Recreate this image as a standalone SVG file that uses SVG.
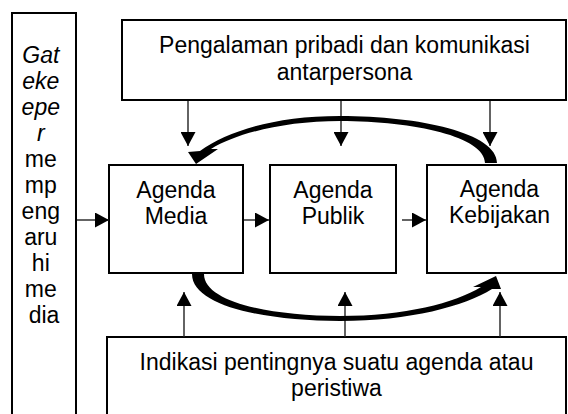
<svg xmlns="http://www.w3.org/2000/svg" width="568" height="414" viewBox="0 0 568 414">
<style>
.box{fill:#fff;stroke:#000;stroke-width:2}
.t{font-family:"Liberation Sans",Arial,sans-serif;font-size:23px;fill:#000;text-anchor:middle}
.it{font-style:italic}
.ln{stroke:#222;stroke-width:1.4;fill:none;marker-end:url(#ah)}
.curve{fill:#000;stroke:none}
</style>
<defs>
<marker id="ah" markerWidth="15" markerHeight="15" refX="14" refY="7.5" orient="auto" markerUnits="userSpaceOnUse">
<path d="M0,0 L14,7.5 L0,15 Z" fill="#000"/>
</marker>
</defs>
<rect x="0" y="0" width="568" height="414" fill="#fff"/>
<g id="gatekeeper">
<rect class="box" x="12" y="13" width="64" height="420"/>
<text class="t">
<tspan class="it" x="44" y="63">Gat</tspan>
<tspan class="it" x="44" y="89">eke</tspan>
<tspan class="it" x="44" y="115">epe</tspan>
<tspan class="it" x="44" y="141">r</tspan>
<tspan x="44" y="167">me</tspan>
<tspan x="44" y="193">mp</tspan>
<tspan x="44" y="219">eng</tspan>
<tspan x="44" y="245">aru</tspan>
<tspan x="44" y="271">hi</tspan>
<tspan x="44" y="297">me</tspan>
<tspan x="44" y="323">dia</tspan>
</text>
</g>
<g id="pengalaman">
<rect class="box" x="122" y="20" width="444" height="80"/>
<text class="t"><tspan x="344.5" y="53">Pengalaman pribadi dan komunikasi</tspan><tspan x="344.5" y="80">antarpersona</tspan></text>
</g>
<g id="media">
<rect class="box" x="109" y="165" width="134" height="108"/>
<text class="t"><tspan x="176" y="198">Agenda</tspan><tspan x="176" y="224">Media</tspan></text>
</g>
<g id="publik">
<rect class="box" x="270" y="165" width="126" height="108"/>
<text class="t"><tspan x="333" y="198">Agenda</tspan><tspan x="333" y="224">Publik</tspan></text>
</g>
<g id="kebijakan">
<rect class="box" x="427" y="165" width="139" height="108"/>
<text class="t"><tspan x="499.5" y="197">Agenda</tspan><tspan x="499.5" y="223">Kebijakan</tspan></text>
</g>
<g id="indikasi">
<rect class="box" x="107" y="337" width="459" height="90"/>
<text class="t"><tspan x="336.5" y="370">Indikasi pentingnya suatu agenda atau</tspan><tspan x="336.5" y="396">peristiwa</tspan></text>
</g>
<g id="connectors">
<line class="ln" x1="188" y1="101" x2="188" y2="146"/>
<line class="ln" x1="341" y1="101" x2="341" y2="146"/>
<line class="ln" x1="490" y1="101" x2="490" y2="146"/>
<line class="ln" x1="184" y1="337" x2="184" y2="292"/>
<line class="ln" x1="345" y1="337" x2="345" y2="292"/>
<line class="ln" x1="500" y1="337" x2="500" y2="292"/>
<line class="ln" x1="77" y1="220" x2="109" y2="220"/>
<line class="ln" x1="244" y1="220" x2="269" y2="220"/>
<line class="ln" x1="402" y1="220" x2="426" y2="220"/>
<path class="curve" d="M497,163 C497,133 420,116 340,116 C275,116 228,131 200,151 L188,152 L196,164 L218,149 L211,149 C237,133 285,121 340,121 C415,121 485,137 485,163 Z"/>
<path class="curve" d="M192,274 C192,306 265,321 340,321 C410,321 465,306 492,289 L501,289 L496,276 L473,287 L481,287 C455,303 405,316 340,316 C270,316 204,302 204,274 Z"/>
</g>
</svg>
